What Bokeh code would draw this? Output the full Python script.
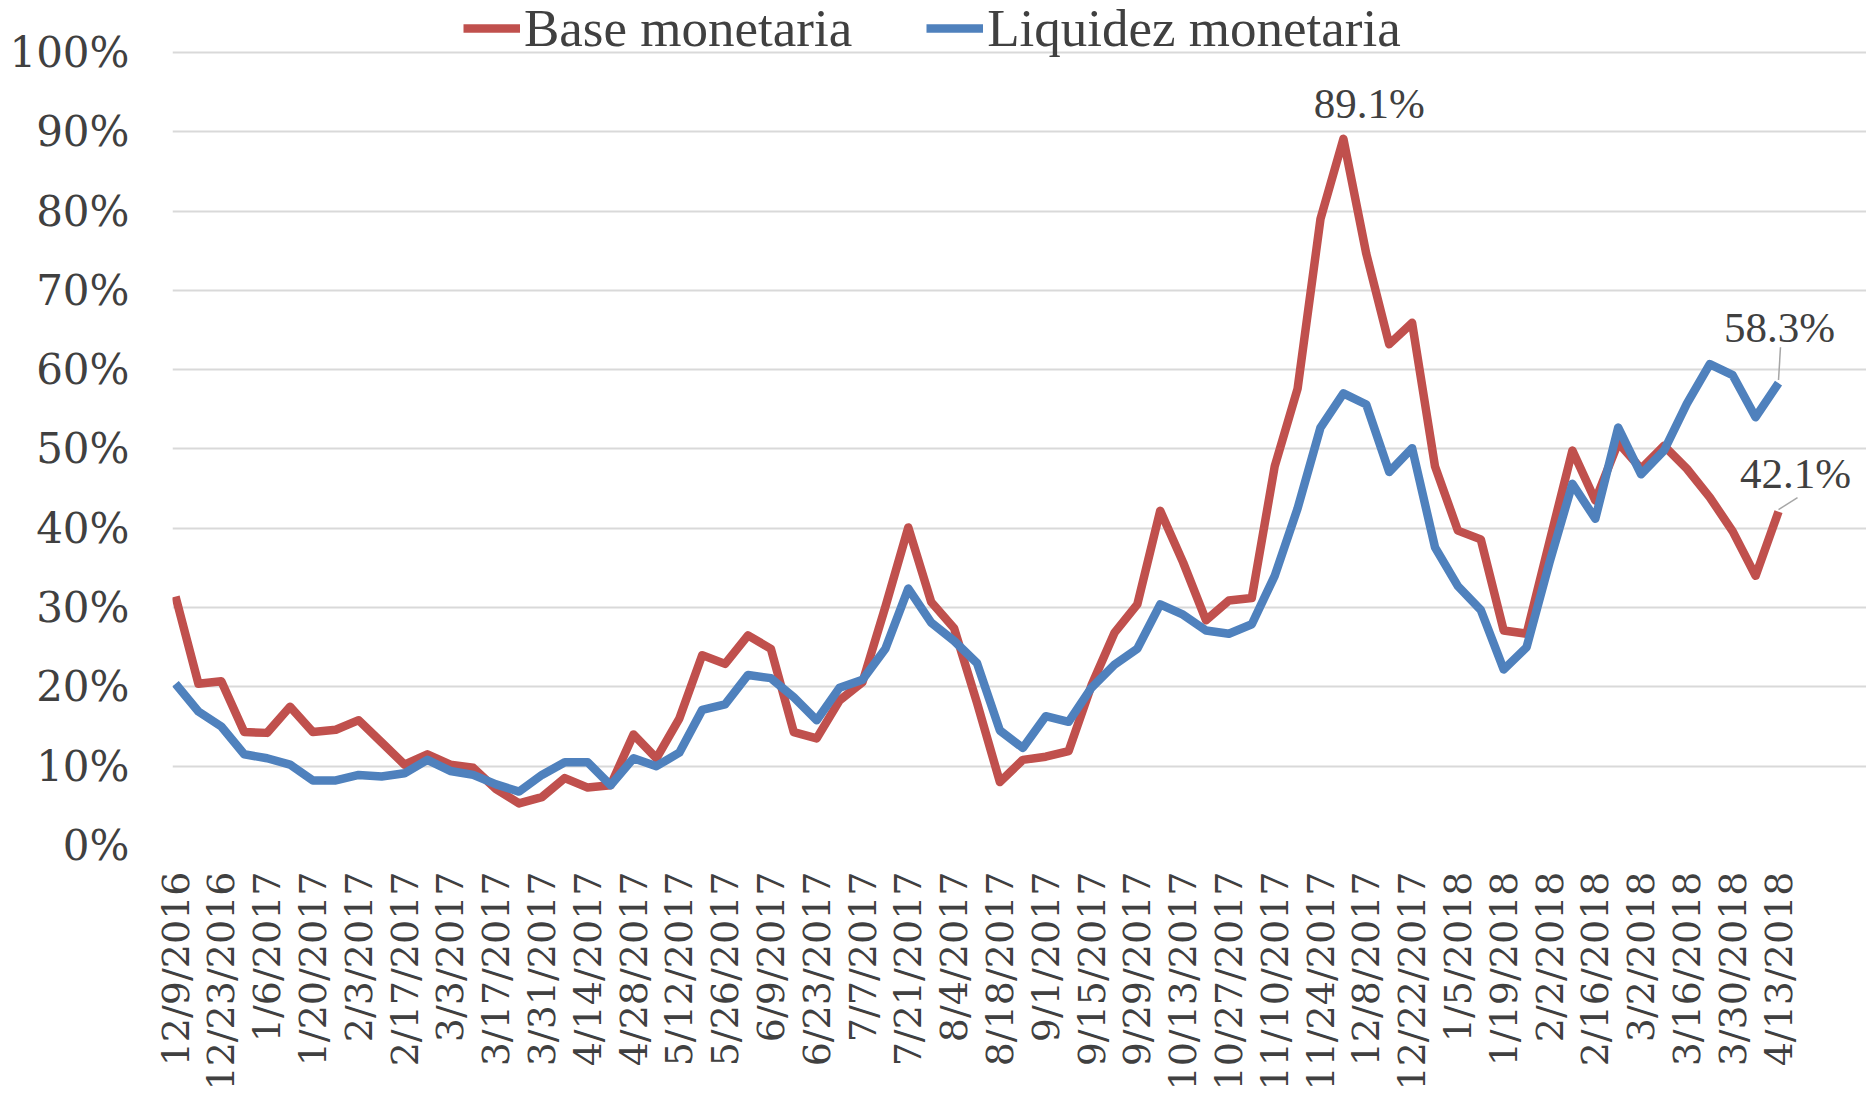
import math
from bokeh.plotting import figure
from bokeh.models import (ColumnDataSource, FixedTicker, NumeralTickFormatter, Legend,
                          LegendItem, LabelSet, Arrow, Range1d)
from bokeh.embed import file_html
from bokeh.resources import INLINE

# Tick labels (every second week)
tick_labels = ["12/9/2016", "12/23/2016", "1/6/2017", "1/20/2017", "2/3/2017", "2/17/2017",
               "3/3/2017", "3/17/2017", "3/31/2017", "4/14/2017", "4/28/2017", "5/12/2017",
               "5/26/2017", "6/9/2017", "6/23/2017", "7/7/2017", "7/21/2017", "8/4/2017",
               "8/18/2017", "9/1/2017", "9/15/2017", "9/29/2017", "10/13/2017", "10/27/2017",
               "11/10/2017", "11/24/2017", "12/8/2017", "12/22/2017", "1/5/2018", "1/19/2018",
               "2/2/2018", "2/16/2018", "3/2/2018", "3/16/2018", "3/30/2018", "4/13/2018"]

# Weekly values, in percent
base_monetaria = [31.4, 20.4, 20.7, 14.3, 14.2, 17.5, 14.3, 14.6, 15.8, 13.0,
                  10.2, 11.5, 10.2, 9.8, 7.1, 5.3, 6.1, 8.5, 7.3, 7.6,
                  14.0, 11.0, 16.0, 24.0, 22.9, 26.5, 24.8, 14.3, 13.5, 18.3,
                  20.6, 30.1, 40.1, 30.7, 27.4, 18.0, 8.0, 10.8, 11.2, 11.9,
                  20.2, 26.8, 30.4, 42.2, 35.7, 28.4, 30.9, 31.2, 47.8, 57.6,
                  79.0, 89.1, 74.6, 63.2, 65.9, 47.8, 39.7, 38.6, 27.1, 26.7,
                  38.3, 49.8, 43.5, 50.8, 47.5, 50.4, 47.5, 43.9, 39.6, 34.0,
                  42.1]
liquidez_monetaria = [20.4, 16.9, 15.0, 11.5, 11.0, 10.2, 8.2, 8.2, 8.9, 8.7,
                      9.1, 10.8, 9.4, 8.9, 7.7, 6.8, 8.9, 10.5, 10.5, 7.6,
                      11.0, 10.0, 11.7, 17.1, 17.8, 21.5, 21.1, 18.7, 15.8, 19.9,
                      20.9, 24.8, 32.4, 28.1, 25.8, 23.0, 14.5, 12.3, 16.3, 15.6,
                      19.9, 22.8, 24.8, 30.4, 29.1, 27.1, 26.7, 27.9, 34.0, 42.5,
                      52.7, 57.0, 55.6, 47.1, 50.1, 37.6, 32.7, 29.7, 22.2, 25.0,
                      35.7, 45.6, 41.2, 52.7, 46.8, 49.8, 55.7, 60.7, 59.3, 54.0,
                      58.3]

n = len(base_monetaria)
x = list(range(n))
base_f = [v / 100 for v in base_monetaria]
liq_f = [v / 100 for v in liquidez_monetaria]

RED = "#C0504D"
BLUE = "#4F81BD"
TXT = "#404040"
FONT = "DejaVu Serif"
LEG_FONT = "Liberation Serif"

W, H = 1866, 1093
LEFT = 172            # frame left edge (px)
FRAME_H = 847         # frame spans from the top of the canvas down to the 0% line
PX_X = 22.9           # px per week
PX_Y = 795.0          # px per 100 %
X0_PAD = 3            # px between frame left and first point
frame_w = W - LEFT
x_start = -X0_PAD / PX_X
x_end = x_start + frame_w / PX_X
y_end = FRAME_H / PX_Y

p = figure(width=W, height=H, output_backend="svg", toolbar_location=None,
           x_range=Range1d(x_start, x_end), y_range=Range1d(0, y_end),
           min_border_left=LEFT, min_border_right=0, min_border_top=0,
           min_border_bottom=H - FRAME_H)
p.outline_line_color = None
p.background_fill_color = "white"
p.border_fill_color = "white"

# grid
p.xgrid.grid_line_color = None
p.ygrid.grid_line_color = "#d9d9d9"
p.ygrid.grid_line_width = 2
p.ygrid.bounds = (0, n - 1)

# y axis
p.yaxis.ticker = FixedTicker(ticks=[i / 10 for i in range(11)])
p.yaxis.formatter = NumeralTickFormatter(format="0%")
p.yaxis.axis_line_color = None
p.yaxis.major_tick_line_color = None
p.yaxis.minor_tick_line_color = None
p.yaxis.major_tick_out = 0
p.yaxis.major_label_standoff = 43
p.yaxis.major_label_text_font = FONT
p.yaxis.major_label_text_font_size = "42px"
p.yaxis.major_label_text_color = TXT

# x axis
ticks = [2 * i for i in range(len(tick_labels))]
p.xaxis.ticker = FixedTicker(ticks=ticks)
p.xaxis.major_label_overrides = {t: lab for t, lab in zip(ticks, tick_labels)}
p.xaxis.major_label_orientation = math.pi / 2
p.xaxis.axis_line_color = None
p.xaxis.major_tick_line_color = None
p.xaxis.minor_tick_line_color = None
p.xaxis.major_tick_out = 0
p.xaxis.major_tick_in = 0
p.xaxis.major_label_standoff = 26
p.xaxis.major_label_text_font = FONT
p.xaxis.major_label_text_font_size = "38px"
p.xaxis.major_label_text_color = TXT

r1 = p.line(x, base_f, line_color=RED, line_width=8.5, line_join="round")
r2 = p.line(x, liq_f, line_color=BLUE, line_width=8.5, line_join="round")

LEG_PX = 53
leg_h = LEG_PX * 1.107
legend = Legend(items=[LegendItem(label="Base monetaria", renderers=[r1]),
                       LegendItem(label="Liquidez monetaria", renderers=[r2])],
                orientation="horizontal", location=(463 - LEFT, FRAME_H - 1 - leg_h),
                label_text_font=LEG_FONT, label_text_font_size=f"{LEG_PX}px",
                label_text_color=TXT, glyph_width=57, glyph_height=20,
                label_standoff=4, spacing=74, padding=0, margin=0,
                border_line_color=None, background_fill_alpha=0)
p.add_layout(legend)

# data labels
peak_i = base_f.index(max(base_f))
last = n - 1
lab_src = ColumnDataSource(dict(
    x=[peak_i, last, last],
    y=[base_f[peak_i], liq_f[last], base_f[last]],
    text=[f"{base_monetaria[peak_i]:.1f}%", f"{liquidez_monetaria[last]:.1f}%",
          f"{base_monetaria[last]:.1f}%"],
    dx=[26, 1, 17],
    dy=[35, 56, 38],
))
p.add_layout(LabelSet(x="x", y="y", text="text", source=lab_src, x_offset="dx", y_offset="dy",
                      text_align="center", text_baseline="middle", text_font=FONT,
                      text_font_size="43px", text_color=TXT))

# leader lines
p.add_layout(Arrow(end=None, x_start=last, y_start=liq_f[last] + 0.004,
                   x_end=last + 2 / PX_X, y_end=liq_f[last] + 36 / PX_Y,
                   line_color="#a6a6a6", line_width=1.5))
p.add_layout(Arrow(end=None, x_start=last, y_start=base_f[last] + 2 / PX_Y,
                   x_end=last + 19 / PX_X, y_end=base_f[last] + 14 / PX_Y,
                   line_color="#a6a6a6", line_width=1.5))

open("out.html", "w").write(file_html(p, INLINE))
